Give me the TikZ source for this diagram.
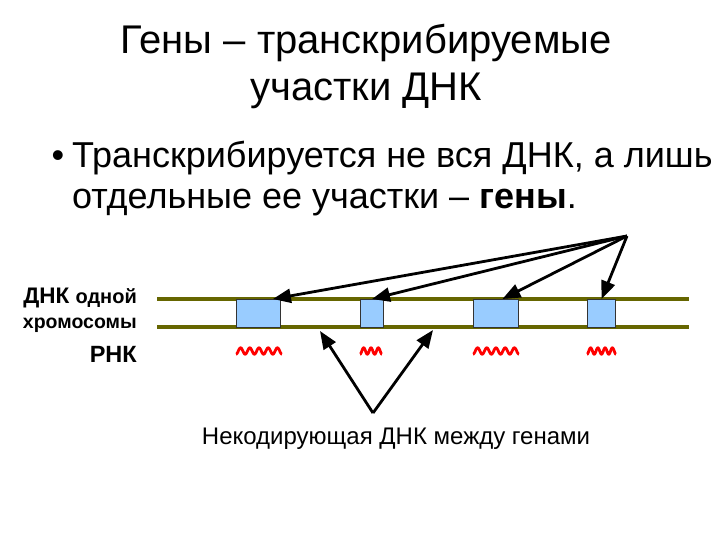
\documentclass[tikz,border=0pt]{standalone}
\usepackage{fontspec}
\setmainfont{Liberation Sans}
\usetikzlibrary{arrows.meta,calc}
\definecolor{dnaline}{HTML}{666600}
\definecolor{genefill}{HTML}{99CCFF}
\begin{document}
\begin{tikzpicture}[x=1pt,y=-1pt,
  gene/.style={draw=black!80, line width=1pt, fill=genefill, minimum height=28pt, inner sep=0pt, anchor=north west},
  strand/.style={draw=dnaline, line width=3.6pt},
  arr/.style={-{Triangle[length=18pt,width=14pt]}, line width=2.8pt},
  rna/.style={draw=red, line width=2.8pt, line join=round},
  lbl/.style={inner sep=0pt, anchor=base east, font=\bfseries}]
\useasboundingbox (0,0) rectangle (720,540);
% title
\node[inner sep=0pt, anchor=base, font=\fontsize{40}{48}\selectfont] (t1) at (366,54) {Гены – транскрибируемые};
\node[inner sep=0pt, anchor=base, font=\fontsize{40}{48}\selectfont] (t2) at (366,101) {участки ДНК};
% bullet
\node[inner sep=0pt, anchor=base, font=\fontsize{36}{44}\selectfont] (bul) at (58,168) {•};
\node[inner sep=0pt, anchor=base west, font=\fontsize{36}{44}\selectfont] (b1) at (72,168) {Транскрибируется не вся ДНК, а лишь};
\node[inner sep=0pt, anchor=base west, font=\fontsize{36}{44}\selectfont] (b2) at (72,208) {отдельные ее участки – \textbf{гены}.};
% strands
\coordinate (s1l) at (157,299); \coordinate (s1r) at (689,299);
\coordinate (s2l) at (157,327); \coordinate (s2r) at (689,327);
\draw[strand] (s1l) -- (s1r);
\draw[strand] (s2l) -- (s2r);
% genes
\node[gene, minimum width=44pt] (g1) at (236,299) {};
\node[gene, minimum width=23pt] (g2) at (360,299) {};
\node[gene, minimum width=45pt] (g3) at (473,299) {};
\node[gene, minimum width=28pt] (g4) at (587,299) {};
% rna
\foreach \g/\w/\n in {g1/46/5,g2/22/3,g3/46/5,g4/29/4}
  \draw[rna, shift={($(\g.south west)+(0,23)$)}] plot[domain=0:\w, samples=100] (\x,{3.2*cos((360*\n/\w)*\x)});
% labels
\node[lbl, font=\bfseries\fontsize{22.5}{26}\selectfont] (l1) at (137,303) {ДНК {\fontsize{20}{22}\selectfont одной}};
\node[lbl, font=\bfseries\fontsize{19.5}{22}\selectfont] (l2) at (137,328) {хромосомы};
\node[lbl, font=\bfseries\fontsize{23.5}{26}\selectfont] (l3) at (137,362) {РНК};
\node[inner sep=0pt, anchor=base, font=\fontsize{24}{28}\selectfont] (nc) at (396,444) {Некодирующая ДНК между генами};
% arrows to genes
\coordinate (src) at (627,236);
\draw[arr] (src) -- ($(g1.north west)!0.82!(g1.north east)$);
\draw[arr] (src) -- (g2.north);
\draw[arr] (src) -- ($(g3.north west)!0.64!(g3.north east)$);
\draw[arr] (src) -- (g4.north);
% arrows to non-coding
\coordinate (nsrc) at (373,413);
\coordinate (nc1) at (320,331);
\coordinate (nc2) at (433,330);
\draw[arr] (nsrc) -- (nc1);
\draw[arr] (nsrc) -- (nc2);
\end{tikzpicture}
\end{document}
